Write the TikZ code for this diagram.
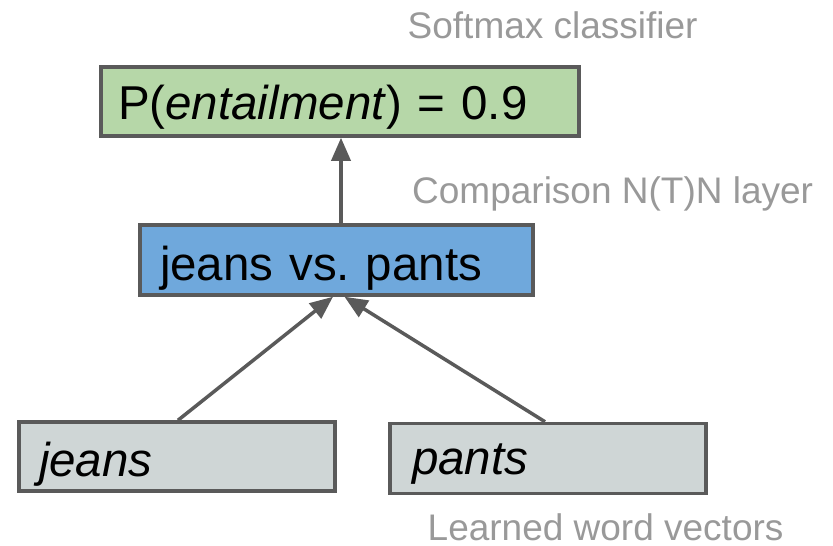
\documentclass[tikz,border=0pt]{standalone}
\usepackage{fontspec}
\setmainfont{Liberation Sans}
\usetikzlibrary{arrows.meta}
\definecolor{greenfill}{HTML}{B6D7A8}
\definecolor{bluefill}{HTML}{6FA8DC}
\definecolor{grayfill}{HTML}{CFD6D6}
\definecolor{bordergray}{HTML}{5A5A5A}
\definecolor{labelgray}{HTML}{999999}
\tikzset{
  boxnode/.style={draw=bordergray, line width=3.5pt, inner ysep=0pt, align=left,
    text depth=0pt, font=\fontsize{47.5}{50}\selectfont},
  labelnode/.style={anchor=base west, inner sep=0pt, text=labelgray, text depth=0pt,
    font=\fontsize{37}{40}\selectfont},
  arrowline/.style={draw=bordergray, line width=3.5pt,
    -{Triangle[length=23pt,width=19pt]}}
}
\begin{document}
\begin{tikzpicture}[x=1pt,y=-1pt]
\useasboundingbox (0,0) rectangle (833,546);
% boxes
\node[boxnode, fill=greenfill, inner xsep=17pt, text width=444pt,
  minimum height=69pt, text height=35pt] (cls) at (340,101.5)
  {P(\textit{entailment}) = 0.9};
\node[boxnode, fill=bluefill, inner xsep=20pt, text width=353pt,
  minimum height=70pt, text height=40pt] (cmp) at (336.5,260)
  {jeans vs.\ pants};
\node[boxnode, fill=grayfill, inner xsep=20pt, text width=276pt,
  minimum height=69pt, text height=39pt] (wj) at (177,456.5)
  {\textit{jeans}};
\node[boxnode, fill=grayfill, inner xsep=22pt, text width=272pt,
  minimum height=70pt, text height=32pt] (wp) at (548,458.5)
  {\textit{pants}};
% labels
\node[labelnode] (lsoft) at (407.5,38.5) {Softmax classifier};
\node[labelnode] (lcomp) at (412,203) {Comparison N(T)N layer};
\node[labelnode] (lword) at (427.5,540) {Learned word vectors};
% connectors
\draw[arrowline] ([xshift=4.5pt]cmp.north) -- ([xshift=4.5pt]cmp.north |- cls.south);
\draw[arrowline] ([xshift=1pt]wj.north) -- ([xshift=-3.5pt]cmp.south);
\draw[arrowline] ([xshift=-3pt]wp.north) -- ([xshift=8pt]cmp.south);
\end{tikzpicture}
\end{document}
